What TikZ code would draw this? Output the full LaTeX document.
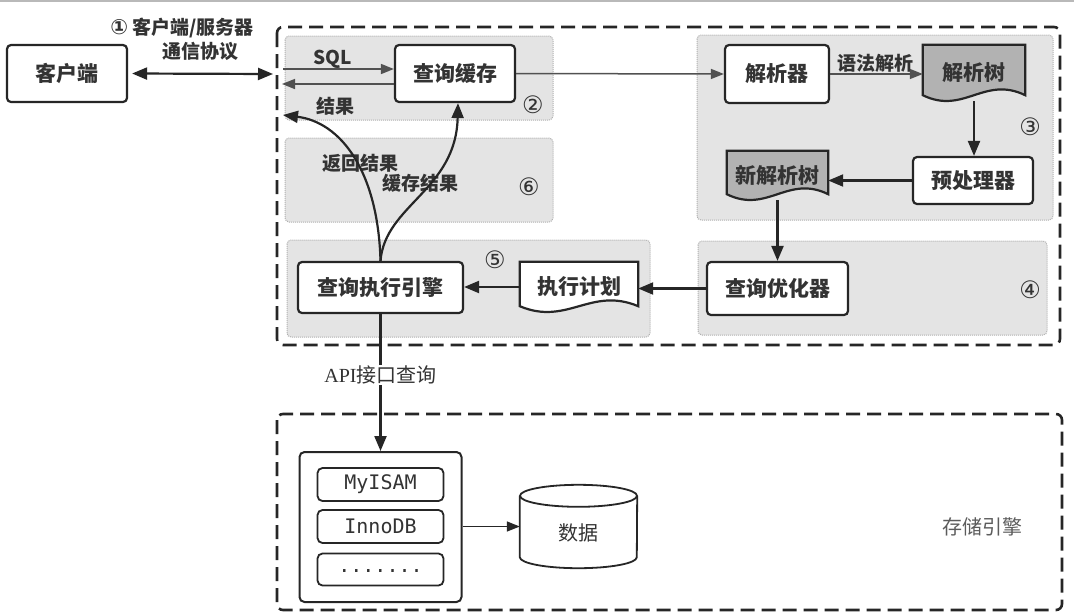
\documentclass[tikz,border=0pt]{standalone}
\usepackage{fontspec}
\setmainfont{Noto Sans CJK SC}
\newfontfamily\circfont{DejaVu Sans}
\newfontfamily\monof{DejaVu Sans Mono}
\newfontfamily\seriff{Liberation Serif}
\usetikzlibrary{arrows.meta,calc}
\definecolor{ink}{HTML}{262626}
\definecolor{txt}{HTML}{333333}
\definecolor{regfill}{HTML}{E4E4E4}
\definecolor{regline}{HTML}{B0B0B0}
\definecolor{docfill}{HTML}{B2B2B2}
\tikzset{
  box/.style={draw=ink, line width=2.2pt, rounded corners=4pt, fill=white, inner sep=0pt,
    font=\fontsize{21}{21}\selectfont\bfseries, text=txt},
  docbase/.style={inner sep=0pt},
  doctext/.style={inner sep=0pt, font=\fontsize{21}{21}\selectfont\bfseries, text=txt},
  monobox/.style={draw=ink, line width=1.8pt, rounded corners=5pt, fill=white, inner sep=0pt,
    minimum width=126pt, font=\monof\fontsize{20}{20}\selectfont, text=txt},
  region/.style={draw=regline, densely dotted, line width=1pt, fill=regfill, rounded corners=4pt},
  bigarrow/.style={draw=ink, line width=2.2pt, -{Triangle[length=15pt,width=12pt]}},
  thinarrow/.style={draw=ink!80, line width=1.5pt, -{Triangle[length=13pt,width=10pt]}},
  lbl/.style={font=\fontsize{19}{19}\selectfont\bfseries, text=txt, inner sep=1pt},
  circ/.style={font=\circfont\fontsize{24}{24}\selectfont, text=txt, inner sep=0pt},
  frame/.style={draw=ink, line width=2.6pt, dash pattern=on 14pt off 7pt, rounded corners=6pt},
}
\newcommand\docpath[2]{%
  \draw[fill=#2, draw=ink, line width=2.2pt]
    (#1.north west) -- (#1.north east) -- ([yshift=6pt]#1.south east)
    .. controls ($(#1.south east)!0.4!(#1.south west)+(0,-26)$) and ($(#1.south west)!0.4!(#1.south east)+(0,14)$)
    .. ([yshift=6pt]#1.south west) -- cycle;}
\begin{document}
\begin{tikzpicture}[x=1pt,y=-1pt]
\useasboundingbox (0,0) rectangle (1074,614);
\fill[white] (0,0) rectangle (1074,614);
\draw[gray!55, line width=2pt] (0,1) -- (1074,1);

% shaded regions
\draw[region] (285,36) rectangle (553,120);
\draw[region] (285,138) rectangle (553,222);
\draw[region] (697,35) rectangle (1053,220);
\draw[region] (287,240) rectangle (650,337);
\draw[region] (698,241) rectangle (1047,335);

% dashed frames
\draw[frame] (277,27) rectangle (1060,345);
\draw[frame] (277,414) rectangle (1062,610);

% boxes
\node[box, minimum width=120pt, minimum height=57pt] (client) at (67,73.5) {客户端};
\node[box, minimum width=120pt, minimum height=57pt] (cache) at (455,73.5) {查询缓存};
\node[box, minimum width=104pt, minimum height=58pt] (parser) at (777,74) {解析器};
\node[box, minimum width=120pt, minimum height=47pt] (preproc) at (973,180.5) {预处理器};
\node[box, minimum width=141pt, minimum height=53pt] (optimizer) at (777.5,288.5) {查询优化器};
\node[box, minimum width=165pt, minimum height=51pt] (engine) at (380.5,287.5) {查询执行引擎};

% document shapes
\node[docbase, minimum width=102pt, minimum height=56pt] (ptree) at (974,73) {};
\docpath{ptree}{docfill}
\node[doctext] (ptreeT) at (ptree) {解析树};
\node[docbase, minimum width=101pt, minimum height=49pt] (ntree) at (777.5,175.5) {};
\docpath{ntree}{docfill}
\node[doctext] (ntreeT) at (ntree) {新解析树};
\node[docbase, minimum width=118pt, minimum height=50pt] (plan) at (579,287) {};
\docpath{plan}{white}
\node[doctext] (planT) at (plan) {执行计划};

% storage engines
\node[draw=ink, line width=2pt, rounded corners=5pt, fill=white, minimum width=162pt, minimum height=150pt, inner sep=0pt] (outer) at (380.5,527) {};
\node[monobox, minimum height=33pt] (myisam) at (380.5,484.5) {MyISAM};
\node[monobox, minimum height=33pt] (innodb) at (380.5,526.5) {InnoDB};
\node[monobox, minimum height=32pt] (etc) at (380.5,569.5) {\raisebox{-5pt}{.......}};

% data cylinder
\node[inner sep=0pt, minimum width=117pt, minimum height=83pt] (data) at (578.5,526.5) {};
\draw[fill=white, draw=ink, line width=1.8pt]
  (data.north west) ++(0,11) -- ([yshift=11pt]data.south west)
  arc (180:0:58.5 and 11) -- ([yshift=-11pt]data.north east);
\draw[fill=white, draw=ink, line width=1.8pt] ([yshift=-11pt]data.north) ellipse (58.5 and 11);
\node[font=\fontsize{20}{20}\selectfont, text=txt, inner sep=0pt] (dataT) at ([yshift=-6pt]data.center) {数据};

% labels
\node[lbl] (top1) at (182,28) {{\circfont\fontsize{21}{21}\selectfont ①} 客户端/服务器};
\node[lbl] (top2) at (200,51) {通信协议};
\node[lbl] (sql) at (333,59) {SQL};
\node[lbl] (res) at (335,106) {结果};
\node[lbl] (ret) at (360,163) {返回结果};
\node[lbl] (cach) at (420,183) {缓存结果};
\node[lbl] (syn) at (875,63) {语法解析};
\node[inner sep=1pt, text=txt, font=\fontsize{20}{20}\selectfont] (api) at (380.5,375) {{\seriff API}接口查询};
\node[inner sep=1pt, text=txt!80, font=\fontsize{20}{20}\selectfont] (store) at (982,527) {存储引擎};

\node[circ] (c2) at (533,105) {②};
\node[circ] (c6) at (529,187) {⑥};
\node[circ] (c3) at (1030,127) {③};
\node[circ] (c5) at (495,260) {⑤};
\node[circ] (c4) at (1030,290) {④};

% coordinates
\coordinate (srvL) at (273,74);
\coordinate (sqlin) at (283,69);
\coordinate (resout) at (282,84);
\coordinate (rettip) at (283,115);

% connectors
\draw[draw=ink, line width=2.2pt, {Triangle[length=15pt,width=12pt]}-{Triangle[length=15pt,width=12pt]}] ([xshift=4pt]client.east) -- (srvL);
\draw[thinarrow] (sqlin) -- (cache.west |- sqlin);
\draw[thinarrow] (cache.west |- resout) -- (resout);
\draw[thinarrow] (cache.east) -- (parser.west);
\draw[thinarrow] (parser.east) -- (parser.east -| ptree.west);
\draw[bigarrow] (ptree.south) -- (ptree.south |- preproc.north);
\draw[bigarrow] (preproc.west) -- (preproc.west -| ntree.east);
\draw[bigarrow] (ntree.south) -- (optimizer.north);
\draw[bigarrow] (optimizer.west) -- (optimizer.west -| plan.east);
\draw[bigarrow] (plan.west) -- (plan.west -| engine.east);
\draw[bigarrow] (engine.north) .. controls (378,170) and (340,122) .. (rettip);
\draw[bigarrow] (engine.north) .. controls (385,205) and (456,190) .. ([xshift=3pt]cache.south);
\draw[draw=ink, line width=2.2pt] (engine.south) -- (api.north);
\draw[bigarrow] (api.south) -- (api.south |- outer.north);
\draw[draw=ink, line width=1.4pt, -{Triangle[length=13pt,width=10pt]}] (outer.east |- data.west) -- (data.west);
\end{tikzpicture}
\end{document}
